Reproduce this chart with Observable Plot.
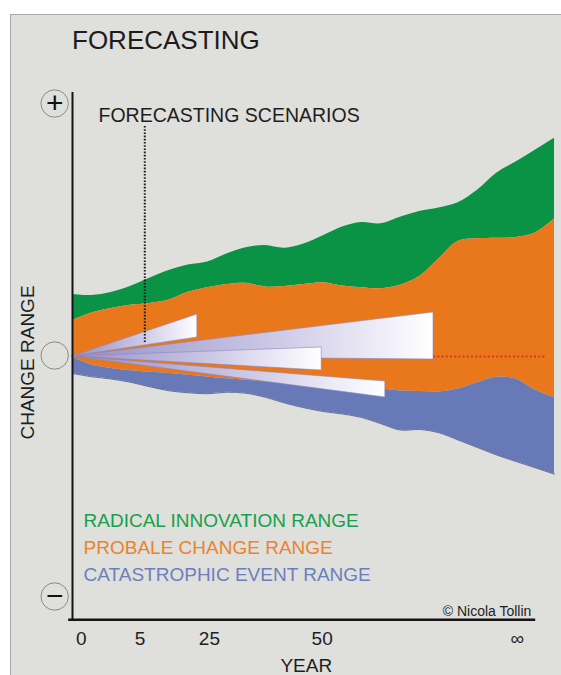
<!DOCTYPE html>
<html>
<head>
<meta charset="utf-8">
<script src="https://cdn.jsdelivr.net/npm/d3@7"></script>
<script src="https://cdn.jsdelivr.net/npm/@observablehq/plot@0.6"></script>
<style>
  html, body { margin: 0; padding: 0; background: #ffffff; }
  body { width: 561px; height: 675px; position: relative; overflow: hidden;
         font-family: "Liberation Sans", Arial, sans-serif; }
  #panel { position: absolute; left: 10px; top: 14px; right: 0; bottom: 0;
           background: #dfdfdc; border-left: 1px solid #a9a9a9; border-top: 1px solid #a9a9a9; }
  #title { position: absolute; left: 72px; top: 27px; font-size: 26px; line-height: 26px;
           color: #1c1c1c; white-space: nowrap; }
  #chart { position: absolute; left: 0; top: 60px; }
</style>
</head>
<body>
<div id="panel"></div>
<div id="title">FORECASTING</div>
<div id="chart"></div>
<script>
// ---- data (schematic units: time 0–100 along the axis, change −110…110) ----
const xs = [0, 4, 8, 12, 16, 20, 24, 28, 32, 36, 40, 44, 48, 52, 56, 60, 64, 68, 72, 76, 80, 84, 88, 92, 96, 100];
const radicalTop = [24.8, 24.4, 25.6, 28, 31.3, 34.4, 36.6, 37.8, 41, 43.5, 44.4, 43.3, 45, 48.3, 51.8, 53.6, 53.1, 55.7, 58, 59.4, 61.5, 66.5, 73.3, 77.8, 82.5, 87.3];
const probableTop = [14.4, 17.4, 19.2, 20.5, 21.2, 22.6, 25.7, 27.5, 28.8, 29.3, 27.8, 28, 28.8, 29.5, 28.2, 27.5, 27.1, 28.5, 32, 39, 46, 47.1, 47.3, 47.6, 49.4, 55];
const catastrophicTop = [-0.3, -3.4, -4.8, -5.7, -6.3, -6.8, -7.5, -8.2, -8.9, -9.5, -10.1, -10.7, -11.2, -11.6, -12, -12.4, -13, -13.8, -14, -14.2, -13, -10.5, -8.3, -9, -13.4, -16.5];
const catastrophicBottom = [-6.8, -8.1, -9, -10.3, -12.1, -13.7, -14.5, -14.9, -14.3, -14.7, -16.3, -18.6, -20.5, -22, -23, -24.4, -26.9, -29.4, -29.2, -30.5, -33.4, -36.4, -39.4, -42, -44.5, -47.1];

// forecasting scenario wedges (all start at the origin)
const scenarioIds = ["long", "short", "medium", "downside"];
const scenarioEnd = [74.9, 25.9, 51.7, 64.9];
const scenarioHigh = [17.6, 16.8, 3.6, -10];
const scenarioLow = [-1.2, 7.6, -5.6, -16.4];

// time axis
const tickPositions = [1.8, 14, 28.4, 51.8, 92.3];
const tickLabels = ["0", "5", "25", "50", "∞"];

// legend
const legendLabels = ["RADICAL INNOVATION RANGE", "PROBALE CHANGE RANGE", "CATASTROPHIC EVENT RANGE"];
const legendColors = ["#17a04b", "#eb832c", "#6b7fbf"];
const bandColors = ["#0a9345", "#e8781b", "#677ab7"];

// change-range markers (+, 0, −)
const markerSymbols = ["+", "", "−"];
const markerY = [101.2, 0.4, -96];

// ---- annotation anchors (data units) ----
const axisTop = 105.6, axisBottom = -105.3, axisRight = 96.1;
const markerX = -3.7;
const scenarioLine = {x: 15.0, y1: 5.6, y2: 92.4};
const trendEnd = 98.1;
const legendX = 2.3, legendY = [-68, -78.8, -89.6];

// ---- derived tables ----
const bands = xs.map((x, i) => ({x, rt: radicalTop[i], pt: probableTop[i], ct: catastrophicTop[i], cb: catastrophicBottom[i]}));
const wedges = scenarioIds.flatMap((id, i) => [
  {id, x: 0, y1: 0, y2: 0},
  {id, x: scenarioEnd[i], y1: scenarioLow[i], y2: scenarioHigh[i]}
]);
const markers = markerY.map((y, i) => ({y, s: markerSymbols[i]}));
const legend = legendLabels.map((t, i) => ({t, y: legendY[i], c: legendColors[i]}));

const chart = Plot.plot({
  width: 561,
  height: 615,
  marginLeft: 72,
  marginRight: 7,
  marginTop: 21,
  marginBottom: 44,
  x: {domain: [0, 100]},
  y: {domain: [-110, 110], axis: null},
  style: {background: "transparent", fontFamily: "'Liberation Sans', Arial, sans-serif", fontSize: "19px", color: "#1e1e1e", overflow: "visible"},
  marks: [
    // ranges
    Plot.areaY(bands, {x: "x", y1: "pt", y2: "rt", fill: bandColors[0], curve: "catmull-rom"}),
    Plot.areaY(bands, {x: "x", y1: "ct", y2: "pt", fill: bandColors[1], curve: "catmull-rom"}),
    Plot.areaY(bands, {x: "x", y1: "cb", y2: "ct", fill: bandColors[2], curve: "catmull-rom"}),
    Plot.lineY(bands, {x: "x", y: "cb", stroke: "#4b5688", strokeWidth: 0.8, curve: "catmull-rom"}),
    // trend line
    Plot.ruleY([0], {x1: 0, x2: trendEnd, stroke: "#e0321c", strokeWidth: 2, strokeDasharray: "2,2.2"}),
    // scenario wedges
    Plot.areaY(wedges, {x: "x", y1: "y1", y2: "y2", z: "id", fill: "url(#wedgeGrad)", stroke: "#8c86c0", strokeWidth: 0.6}),
    // scenario pointer
    Plot.ruleX([scenarioLine.x], {y1: scenarioLine.y1, y2: scenarioLine.y2, stroke: "#1a1a1a", strokeWidth: 2, strokeDasharray: "1.6,1.6"}),
    Plot.text(["FORECASTING SCENARIOS"], {x: 5.4, y: 93.7, textAnchor: "start", lineAnchor: "bottom", fontSize: 19.5}),
    // axes lines
    Plot.ruleX([0], {y1: axisBottom, y2: axisTop, stroke: "#151515", strokeWidth: 2}),
    Plot.ruleY([axisBottom], {x1: -0.8, x2: axisRight, stroke: "#151515", strokeWidth: 2.5}),
    Plot.axisX(tickPositions, {tickSize: 0, tickPadding: 0, tickFormat: d => tickLabels[tickPositions.indexOf(d)], label: null, fontSize: 19}),
    Plot.text(["YEAR"], {x: 48.5, y: -126.2, lineAnchor: "bottom", fontSize: 19}),
    Plot.text(["CHANGE RANGE"], {x: -9.2, y: -2.4, rotate: -90, fontSize: 19}),
    // markers
    Plot.dot(markers, {x: markerX, y: "y", r: 13.7, stroke: "#8a8a8a", strokeWidth: 1, fill: "none"}),
    Plot.text(markers, {x: markerX, y: "y", text: "s", fontSize: 30, fill: "#111"}),
    // legend
    Plot.text(legend, {x: legendX, y: "y", text: "t", fill: "c", textAnchor: "start", lineAnchor: "bottom", fontSize: 19}),
    // credit
    Plot.text(["© Nicola Tollin"], {x: 95.2, y: -103.6, textAnchor: "end", lineAnchor: "bottom", fontSize: 14})
  ]
});

// gradient for the scenario wedges
const ns = "http://www.w3.org/2000/svg";
const defs = document.createElementNS(ns, "defs");
const grad = document.createElementNS(ns, "linearGradient");
grad.setAttribute("id", "wedgeGrad");
grad.setAttribute("x1", "0"); grad.setAttribute("x2", "1");
grad.setAttribute("y1", "0"); grad.setAttribute("y2", "0");
[["0", "#958fc7"], ["0.55", "#cbc7e5"], ["0.88", "#f1f0f9"], ["1", "#ffffff"]].forEach(([o, c]) => {
  const s = document.createElementNS(ns, "stop");
  s.setAttribute("offset", o); s.setAttribute("stop-color", c);
  grad.appendChild(s);
});
defs.appendChild(grad);
chart.insertBefore(defs, chart.firstChild);

document.getElementById("chart").appendChild(chart);
</script>
</body>
</html>
